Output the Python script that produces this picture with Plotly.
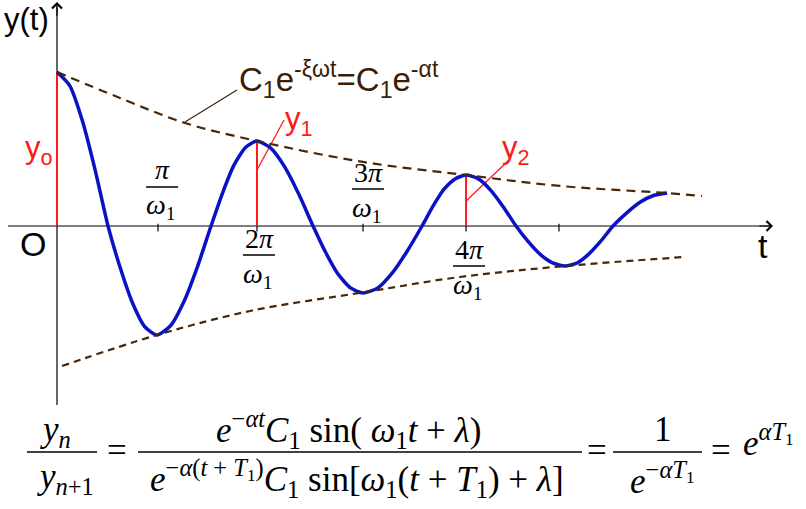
import plotly.graph_objects as go

W, H = 806, 509

# ---------------- data (t in units of pi/omega1, y relative to y0) ----------------
curve_t = [0.0, 0.126, 0.252, 0.379, 0.505, 0.626, 0.748, 0.869, 0.990, 1.124,
           1.257, 1.391, 1.525, 1.639, 1.752, 1.866, 1.980, 2.119, 2.257, 2.396,
           2.535, 2.658, 2.782, 2.906, 3.030, 3.176, 3.322, 3.468, 3.614, 3.723,
           3.832, 3.941, 4.050, 4.173, 4.297, 4.421, 4.545, 4.666, 4.787, 4.908,
           5.030, 5.149, 5.267, 5.386, 5.505, 5.639, 5.772, 5.906, 6.040]
curve_y = [1.000, 0.912, 0.682, 0.360, 0.0, -0.271, -0.500, -0.654, -0.708, -0.648,
           -0.491, -0.264, 0.0, 0.214, 0.395, 0.510, 0.552, 0.504, 0.381, 0.204,
           0.0, -0.169, -0.312, -0.402, -0.435, -0.402, -0.303, -0.162, 0.0, 0.129,
           0.239, 0.306, 0.331, 0.306, 0.230, 0.122, 0.0, -0.102, -0.186, -0.240,
           -0.260, -0.240, -0.181, -0.097, 0.0, 0.084, 0.154, 0.198, 0.214]

upper_t = [0.0, 0.624, 1.267, 1.980, 3.030, 4.050, 4.980, 6.040, 6.386]
upper_y = [1.000, 0.831, 0.669, 0.552, 0.416, 0.331, 0.260, 0.214, 0.195]

lower_t = [0.050, 0.990, 1.911, 3.050, 3.990, 5.030, 6.218]
lower_y = [-0.909, -0.708, -0.552, -0.429, -0.331, -0.260, -0.201]

peak_index = [0, 16, 32]
peak_labels = ["y<sub>o</sub>", "y<sub>1</sub>", "y<sub>2</sub>"]

tick_t = [1.0, 1.98, 3.03, 4.05, 4.97]
tick_num = ["<i>π</i>", "2<i>π</i>", "3<i>π</i>", "4<i>π</i>", ""]
tick_den = "<i>ω</i><sub>1</sub>"

# ---------------- styling ----------------
BLUE = "#0a12c4"
RED = "#ff1a1a"
BROWN = "#4a2608"
BROWN_TXT = "#3c1c02"
SANS = "Liberation Sans, Arial, sans-serif"
SERIF = "Liberation Serif, Times New Roman, serif"

X0, X1 = -57 / 101, 749 / 101
Y0, Y1 = -283 / 154, 226 / 154
XA0, XA1 = -0.485, 7.089     # x-axis extent
YA0, YA1 = -1.162, 1.455     # y-axis extent


def px(x):
    return x / W


def py(y):
    return 1 - y / H


fig = go.Figure()

# axes lines (below everything)
fig.add_trace(go.Scatter(x=[XA0, XA1 - 0.03], y=[0, 0], mode="lines",
                         line=dict(color="black", width=1.2), hoverinfo="skip"))
fig.add_trace(go.Scatter(x=[0, 0], y=[YA0, YA1 - 0.03], mode="lines",
                         line=dict(color="black", width=1.2), hoverinfo="skip"))

# tick marks
for t in tick_t:
    fig.add_trace(go.Scatter(x=[t, t], y=[0.015, -0.035], mode="lines",
                             line=dict(color="black", width=1.2), hoverinfo="skip"))

# red amplitude markers
for i in peak_index:
    fig.add_trace(go.Scatter(x=[curve_t[i], curve_t[i]], y=[0, curve_y[i]], mode="lines",
                             line=dict(color=RED, width=2), hoverinfo="skip"))

# leader lines (label pointers)
fig.add_trace(go.Scatter(x=[1.98, 2.248], y=[0.364, 0.688], mode="lines",
                         line=dict(color=RED, width=1.3), hoverinfo="skip"))
fig.add_trace(go.Scatter(x=[4.05, 4.475], y=[0.162, 0.429], mode="lines",
                         line=dict(color=RED, width=1.3), hoverinfo="skip"))
fig.add_trace(go.Scatter(x=[1.267, 1.782], y=[0.675, 0.883], mode="lines",
                         line=dict(color=BROWN, width=1.3), hoverinfo="skip"))

# damped oscillation
fig.add_trace(go.Scatter(x=curve_t, y=curve_y, mode="lines",
                         line=dict(color=BLUE, width=3.5, shape="spline", smoothing=0.6),
                         hoverinfo="skip"))

# envelopes
fig.add_trace(go.Scatter(x=upper_t, y=upper_y, mode="lines",
                         line=dict(color=BROWN, width=2.2, dash="9px,6px", shape="spline"),
                         hoverinfo="skip"))
fig.add_trace(go.Scatter(x=lower_t, y=lower_y, mode="lines",
                         line=dict(color=BROWN, width=2.2, dash="7px,5px", shape="spline"),
                         hoverinfo="skip"))

annotations = []
shapes = []

# arrow heads of the axes
annotations.append(dict(x=XA1, y=0, ax=XA1 - 0.15, ay=0, xref="x", yref="y", axref="x", ayref="y",
                        text="", showarrow=True, arrowhead=4, arrowsize=1.6, arrowwidth=1.2,
                        arrowcolor="black"))
annotations.append(dict(x=0, y=YA1, ax=0, ay=YA1 - 0.1, xref="x", yref="y", axref="x", ayref="y",
                        text="", showarrow=True, arrowhead=4, arrowsize=1.6, arrowwidth=1.2,
                        arrowcolor="black"))


def txt(x, y, text, size, color="black", family=SANS, xanchor="center", yanchor="middle"):
    annotations.append(dict(x=px(x), y=py(y), xref="paper", yref="paper", text=text,
                            showarrow=False, xanchor=xanchor, yanchor=yanchor,
                            font=dict(size=size, color=color, family=family)))


def bar(x0, x1, y, width=1.5):
    shapes.append(dict(type="line", xref="paper", yref="paper", x0=px(x0), x1=px(x1),
                       y0=py(y), y1=py(y), line=dict(color="black", width=width)))


# axis labels
txt(26, 20, "y(t)", 31)
txt(33, 244, "O", 34)
txt(763, 246, "t", 34)

# peak labels
txt(39, 150, peak_labels[0], 31, RED)
txt(299, 121, peak_labels[1], 31, RED)
txt(516, 150, peak_labels[2], 31, RED)

# envelope label
txt(237, 80, "C<sub>1</sub>e<sup>-ξωt</sup>=C<sub>1</sub>e<sup>-αt</sup>", 33, BROWN_TXT,
    xanchor="left")

# tick fraction labels: (center x, bar y)
frac_pos = [(162, 187), (259, 255), (368, 189), (469, 266)]
for (cx, by), num in zip(frac_pos, tick_num[:4]):
    bar(cx - 16, cx + 16, by)
    txt(cx, by - 17, num, 28, family=SERIF)
    txt(cx - 1, by + 20, tick_den, 28, family=SERIF)

# bottom formula
F = 35
txt(55, 431, "<i>y</i><sub><i>n</i></sub>", F, family=SERIF)
bar(27, 97, 452, 1.6)
txt(65, 478, "<i>y</i><sub><i>n</i>+1</sub>", F, family=SERIF)
txt(117, 450, "=", F, family=SERIF)

txt(348, 429, "<i>e</i><sup>−<i>αt</i></sup><i>C</i><sub>1</sub> sin( <i>ω</i><sub>1</sub><i>t</i> + <i>λ</i>)",
    F, family=SERIF)
bar(138, 582, 452, 1.6)
txt(357, 478, "<i>e</i><sup>−<i>α</i>(<i>t</i> + <i>T</i><sub>1</sub>)</sup><i>C</i><sub>1</sub> sin[<i>ω</i><sub>1</sub>(<i>t</i> + <i>T</i><sub>1</sub>) + <i>λ</i>]",
    F, family=SERIF)
txt(597, 450, "=", F, family=SERIF)

txt(663, 429, "1", F, family=SERIF)
bar(613, 702, 452, 1.6)
txt(662, 478, "<i>e</i><sup>−<i>αT</i><sub>1</sub></sup>", F, family=SERIF)
txt(721, 450, "=", F, family=SERIF)
txt(768, 440, "<i>e</i><sup><i>αT</i><sub>1</sub></sup>", F, family=SERIF)

fig.update_layout(
    width=W, height=H, margin=dict(l=0, r=0, t=0, b=0),
    paper_bgcolor="white", plot_bgcolor="white", showlegend=False,
    xaxis=dict(range=[X0, X1], visible=False, fixedrange=True),
    yaxis=dict(range=[Y0, Y1], visible=False, fixedrange=True),
    annotations=annotations, shapes=shapes,
)

fig.write_html("out.html", config={"displayModeBar": False},
               post_script="document.body.style.margin='0px';document.body.style.overflow='hidden';")
